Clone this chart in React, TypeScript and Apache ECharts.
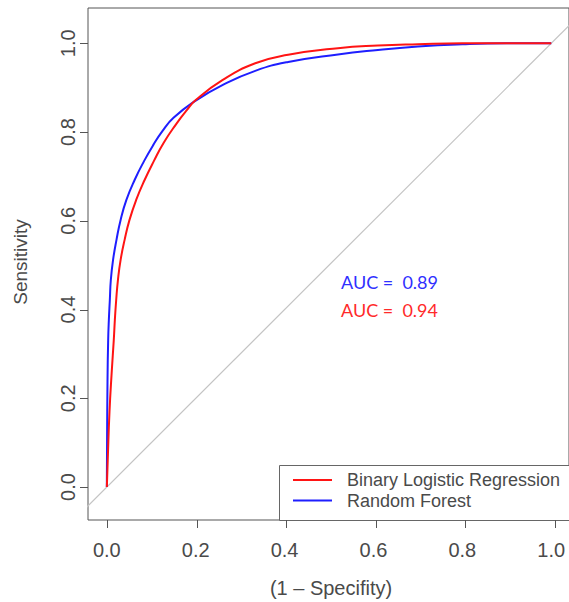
import React, { useEffect, useRef } from "react";
import * as echarts from "echarts";

// 1 - specificity, sensitivity
const rfCurve: [number, number][] = [
  [0, 0], [0.0005, 0.1], [0.0015, 0.24], [0.003, 0.331], [0.0045, 0.376], [0.0067, 0.421],
  [0.009, 0.467], [0.014, 0.512], [0.0217, 0.557], [0.031, 0.602], [0.044, 0.647],
  [0.0625, 0.692], [0.084, 0.735], [0.104, 0.77], [0.125, 0.802], [0.15, 0.832],
  [0.2, 0.871], [0.26, 0.906], [0.334, 0.938], [0.408, 0.958], [0.52, 0.975], [0.61, 0.985],
  [0.7, 0.993], [0.8, 0.998], [0.9, 1.0], [1.0, 1.0],
];
const blrCurve: [number, number][] = [
  [0, 0], [0.002, 0.06], [0.006, 0.17], [0.011, 0.26], [0.0156, 0.331], [0.018, 0.376],
  [0.021, 0.421], [0.025, 0.467], [0.031, 0.512], [0.04, 0.557], [0.051, 0.602],
  [0.066, 0.647], [0.085, 0.692], [0.106, 0.735], [0.128, 0.776], [0.156, 0.818],
  [0.178, 0.847], [0.2, 0.872], [0.26, 0.917], [0.334, 0.955], [0.408, 0.974], [0.52, 0.989],
  [0.61, 0.995], [0.7, 0.998], [0.8, 1.0], [1.0, 1.0],
];
const diagonal: [number, number][] = [[-0.2, -0.2], [1.2, 1.2]];
const xTicks = [0, 0.2, 0.4, 0.6, 0.8, 1.0];
const yTicks = [0, 0.2, 0.4, 0.6, 0.8, 1.0];
const seriesNames = ["Binary Logistic Regression", "Random Forest"];
const aucLabels = ["AUC =  0.89", "AUC =  0.94"];

const X_MIN = -0.0424;
const X_MAX = 1.04;
const Y_MIN = -0.0744;
const Y_MAX = 1.0796;

const W = 569;
const H = 602;
const G_LEFT = 88;
const G_TOP = 8;
const G_RIGHT = -4;
const G_BOTTOM = 82;

const RED = "#FF1414";
const BLUE = "#1E1EFF";
const TXT = "#4a4a4a";
const AXIS = "#555";
const FONT = "'Liberation Sans', Arial, sans-serif";
const TICK_LEN = 8;

export default function App() {
  const ref = useRef<HTMLDivElement>(null);
  useEffect(() => {
    document.body.style.margin = "0";
    const chart = echarts.init(ref.current!, null, { renderer: "svg" });

    // linear scale of the grid, same as the axes use
    const gx0 = G_LEFT, gx1 = W - G_RIGHT, gy0 = G_TOP, gy1 = H - G_BOTTOM;
    const sx = (v: number) => gx0 + ((v - X_MIN) / (X_MAX - X_MIN)) * (gx1 - gx0);
    const sy = (v: number) => gy1 - ((v - Y_MIN) / (Y_MAX - Y_MIN)) * (gy1 - gy0);

    const tickGraphics: any[] = [
      ...xTicks.map((v, i) => ({
        type: "line", id: "xt" + i, z: 100, silent: true,
        shape: { x1: Math.round(sx(v)) + 0.5, y1: gy1, x2: Math.round(sx(v)) + 0.5, y2: gy1 + TICK_LEN },
        style: { stroke: AXIS, lineWidth: 1 },
      })),
      ...yTicks.map((v, i) => ({
        type: "line", id: "yt" + i, z: 100, silent: true,
        shape: { x1: gx0 - TICK_LEN, y1: Math.round(sy(v)) + 0.5, x2: gx0, y2: Math.round(sy(v)) + 0.5 },
        style: { stroke: AXIS, lineWidth: 1 },
      })),
    ];

    chart.setOption({
      animation: false,
      grid: {
        left: G_LEFT, top: G_TOP, right: G_RIGHT, bottom: G_BOTTOM,
        show: true, borderColor: AXIS, borderWidth: 1, backgroundColor: "transparent",
      },
      xAxis: {
        type: "value", min: X_MIN, max: X_MAX,
        axisLine: { show: false, onZero: false },
        splitLine: { show: false },
        axisTick: { show: false },
        axisLabel: {
          customValues: xTicks, margin: 20, fontSize: 20, color: TXT, fontFamily: FONT,
          formatter: (v: number) => v.toFixed(1),
        },
      },
      yAxis: {
        type: "value", min: Y_MIN, max: Y_MAX,
        axisLine: { show: false, onZero: false },
        splitLine: { show: false },
        axisTick: { show: false },
        axisLabel: {
          customValues: yTicks, margin: 20, fontSize: 20, color: TXT, fontFamily: FONT,
          rotate: 90, verticalAlign: "middle", align: "center",
          formatter: (v: number) => v.toFixed(1),
        },
      },
      series: [
        {
          type: "line", data: diagonal, showSymbol: false, clip: true, silent: true,
          lineStyle: { color: "#C4C4C4", width: 1.2 },
        },
        {
          name: seriesNames[1], type: "line", data: rfCurve, showSymbol: false, smooth: 0.5,
          clip: true, lineStyle: { color: BLUE, width: 2 },
        },
        {
          name: seriesNames[0], type: "line", data: blrCurve, showSymbol: false, smooth: 0.5,
          clip: true, lineStyle: { color: RED, width: 2 },
        },
      ],
      graphic: [
        ...tickGraphics,
        {
          type: "text", x: 20, y: 262, rotation: Math.PI / 2,
          style: { text: "Sensitivity", fontSize: 19, fill: TXT, fontFamily: FONT, align: "center", verticalAlign: "middle" },
        },
        {
          type: "text", x: 331, y: 588,
          style: { text: "(1 – Specifity)", fontSize: 20, fill: TXT, fontFamily: FONT, align: "center", verticalAlign: "middle" },
        },
        {
          type: "text", x: 341, y: 282,
          style: { text: aucLabels[0], fontSize: 18, fill: "#3030FF", fontFamily: "Lato, sans-serif", verticalAlign: "middle" },
        },
        {
          type: "text", x: 341, y: 310,
          style: { text: aucLabels[1], fontSize: 18, fill: "#FF2A2A", fontFamily: "Lato, sans-serif", verticalAlign: "middle" },
        },
        {
          type: "rect", shape: { x: 279.5, y: 465.5, width: 320, height: 55 },
          style: { fill: "#fff", stroke: "#666", lineWidth: 1 },
        },
        {
          type: "line", shape: { x1: 293, y1: 480, x2: 332, y2: 480 },
          style: { stroke: RED, lineWidth: 2 },
        },
        {
          type: "line", shape: { x1: 293, y1: 500.5, x2: 332, y2: 500.5 },
          style: { stroke: BLUE, lineWidth: 2 },
        },
        {
          type: "text", x: 347, y: 480,
          style: { text: seriesNames[0], fontSize: 18, fill: TXT, fontFamily: FONT, verticalAlign: "middle" },
        },
        {
          type: "text", x: 347, y: 500.5,
          style: { text: seriesNames[1], fontSize: 18, fill: TXT, fontFamily: FONT, verticalAlign: "middle" },
        },
      ],
    });

    return () => chart.dispose();
  }, []);
  return <div ref={ref} style={{ width: W, height: H }} />;
}
